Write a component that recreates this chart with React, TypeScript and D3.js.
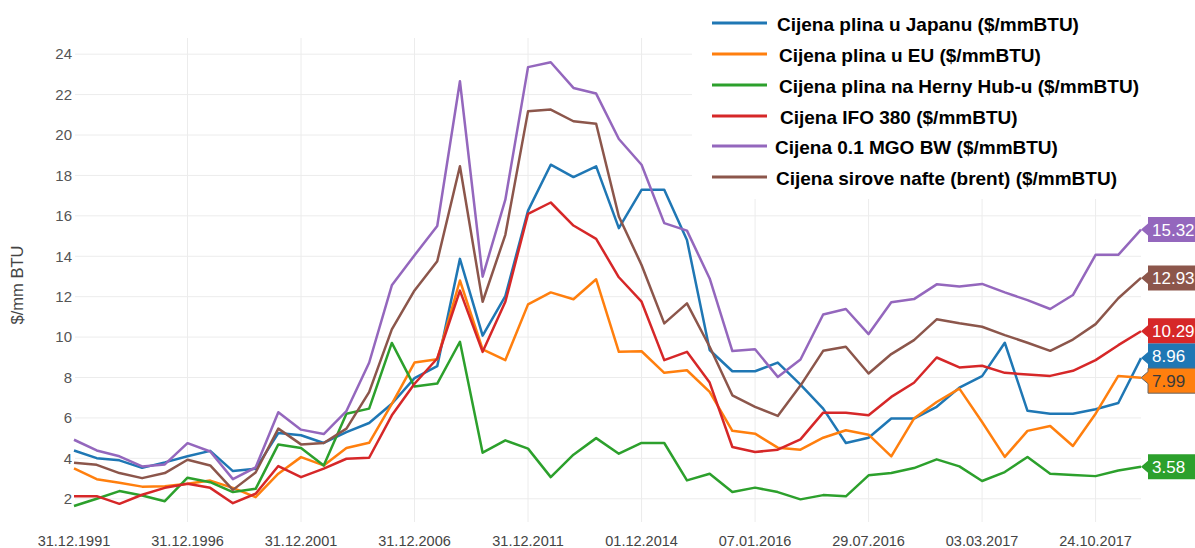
import React from 'react';
import * as d3 from 'd3';

const tickLabels = [
  '31.12.1991', '31.12.1996', '31.12.2001', '31.12.2006', '31.12.2011',
  '01.12.2014', '07.01.2016', '29.07.2016', '03.03.2017', '24.10.2017',
];
const tickEvery = 5;

const japan = [4.39, 4.01, 3.9, 3.53, 3.8, 4.1, 4.37, 3.37, 3.48, 5.25, 5.14, 4.76, 5.3, 5.75, 6.7, 7.97, 8.56, 13.87, 10.07, 12.03, 16.26, 18.53, 17.92, 18.45, 15.39, 17.29, 17.29, 14.8, 9.36, 8.31, 8.31, 8.74, 7.65, 6.46, 4.76, 5.02, 5.97, 5.97, 6.55, 7.5, 8.07, 9.72, 6.35, 6.21, 6.21, 6.43, 6.74, 8.96];
const eu = [3.5, 2.97, 2.79, 2.6, 2.62, 2.74, 2.9, 2.54, 2.08, 3.24, 4.06, 3.65, 4.51, 4.77, 6.7, 8.74, 8.9, 12.8, 9.39, 8.86, 11.62, 12.21, 11.87, 12.86, 9.27, 9.3, 8.23, 8.36, 7.29, 5.36, 5.22, 4.53, 4.43, 5.02, 5.39, 5.17, 4.1, 5.97, 6.79, 7.45, 5.8, 4.07, 5.36, 5.6, 4.61, 6.21, 8.08, 7.99];
const henryHub = [1.64, 2.0, 2.38, 2.16, 1.88, 3.04, 2.82, 2.33, 2.49, 4.69, 4.51, 3.65, 6.21, 6.46, 9.71, 7.55, 7.7, 9.77, 4.28, 4.89, 4.48, 3.07, 4.18, 5.0, 4.23, 4.76, 4.76, 2.91, 3.24, 2.33, 2.55, 2.33, 1.97, 2.18, 2.12, 3.16, 3.27, 3.52, 3.95, 3.6, 2.88, 3.32, 4.07, 3.24, 3.17, 3.12, 3.4, 3.58];
const ifo380 = [2.12, 2.13, 1.75, 2.2, 2.54, 2.74, 2.54, 1.78, 2.25, 3.62, 3.07, 3.49, 3.98, 4.03, 6.13, 7.69, 8.94, 12.3, 9.27, 11.75, 16.1, 16.66, 15.52, 14.86, 12.96, 11.75, 8.86, 9.27, 7.75, 4.56, 4.31, 4.43, 4.94, 6.26, 6.26, 6.13, 7.04, 7.74, 8.99, 8.5, 8.58, 8.23, 8.15, 8.08, 8.33, 8.86, 9.6, 10.29];
const mgo = [4.92, 4.39, 4.1, 3.6, 3.7, 4.75, 4.34, 2.97, 3.55, 6.28, 5.42, 5.2, 6.34, 8.73, 12.56, 14.05, 15.5, 22.66, 12.99, 16.8, 23.36, 23.6, 22.33, 22.05, 19.8, 18.53, 15.64, 15.27, 12.9, 9.31, 9.4, 8.03, 8.89, 11.12, 11.39, 10.15, 11.72, 11.88, 12.61, 12.5, 12.63, 12.21, 11.83, 11.39, 12.08, 14.07, 14.07, 15.32];
const brent = [3.78, 3.68, 3.27, 3.02, 3.27, 3.93, 3.65, 2.44, 3.3, 5.47, 4.69, 4.76, 5.47, 7.28, 10.38, 12.31, 13.75, 18.45, 11.75, 15.06, 21.17, 21.26, 20.68, 20.56, 15.97, 13.57, 10.68, 11.67, 9.52, 7.12, 6.55, 6.1, 7.6, 9.32, 9.52, 8.2, 9.16, 9.85, 10.88, 10.68, 10.51, 10.1, 9.72, 9.32, 9.88, 10.64, 11.92, 12.93];

const seriesNames = [
  'Cijena plina u Japanu ($/mmBTU)',
  'Cijena plina u EU ($/mmBTU)',
  'Cijena plina na Herny Hub-u ($/mmBTU)',
  'Cijena IFO 380 ($/mmBTU)',
  'Cijena 0.1 MGO BW ($/mmBTU)',
  'Cijena sirove nafte (brent) ($/mmBTU)',
];
const seriesValues = [japan, eu, henryHub, ifo380, mgo, brent];
const seriesColors = ['#1f77b4', '#ff7f0e', '#2ca02c', '#d62728', '#9467bd', '#8c564b'];
const labelTextColors = ['#ffffff', '#3a3a3a', '#ffffff', '#ffffff', '#ffffff', '#ffffff'];
const yTicks = [2, 4, 6, 8, 10, 12, 14, 16, 18, 20, 22, 24];

const FONT = "Arial, 'Liberation Sans', sans-serif";

export default function App() {
  const W = 1195;
  const H = 548;
  const n = japan.length;
  const idx = d3.range(n);
  const x = d3.scalePoint<number>().domain(idx).range([74, 1141]);
  const y = d3.scaleLinear().domain([0.85, 24.8]).range([522, 38]);
  const line = d3.line<number>().x((_, i) => x(i) as number).y((v) => y(v));

  const boxH = 25;
  const items = seriesValues.map((vals, k) => {
    const v = vals[vals.length - 1];
    return { k, v, ty: y(v), cy: y(v) };
  });
  const sorted = [...items].sort((a, b) => a.ty - b.ty);
  for (let it = 0; it < 100; it++) {
    for (let j = 1; j < sorted.length; j++) {
      const a = sorted[j - 1];
      const b = sorted[j];
      const ov = boxH - (b.cy - a.cy);
      if (ov > 0) {
        a.cy -= ov / 2;
        b.cy += ov / 2;
      }
    }
  }

  const xEnd = x(n - 1) as number;
  const legendY = [23, 54, 85, 116, 146, 177];
  const legendTextX = [777, 779, 779, 780, 775, 776];

  return (
    <svg
      width={W}
      height={H}
      style={{ position: 'absolute', left: 0, top: 0, background: '#fff' }}
      fontFamily={FONT}
    >
      <rect x={0} y={0} width={W} height={H} fill="#fff" />
      {yTicks.map((t) => (
        <line key={'h' + t} x1={75} x2={xEnd} y1={y(t)} y2={y(t)} stroke="#ececec" strokeWidth={1} />
      ))}
      {tickLabels.map((_, j) =>
        j === 0 ? null : (
          <line
            key={'v' + j}
            x1={x(j * tickEvery)}
            x2={x(j * tickEvery)}
            y1={38}
            y2={522}
            stroke="#ececec"
            strokeWidth={1}
          />
        )
      )}
      <rect x={692} y={0} width={W - 692} height={199} fill="#fff" />
      {yTicks.map((t) => (
        <text key={'yt' + t} x={72} y={y(t)} dy="0.35em" textAnchor="end" fontSize={15} fill="#555">
          {t}
        </text>
      ))}
      {tickLabels.map((lab, j) => (
        <text key={'xt' + j} x={x(j * tickEvery)} y={546} textAnchor="middle" fontSize={14.5} fill="#444">
          {lab}
        </text>
      ))}
      <text transform={`translate(23,285) rotate(-90)`} textAnchor="middle" fontSize={16.5} fill="#444">
        $/mm BTU
      </text>
      {seriesValues.map((vals, k) => (
        <path
          key={'l' + k}
          d={line(vals) || ''}
          fill="none"
          stroke={seriesColors[k]}
          strokeWidth={2.5}
          strokeLinejoin="round"
        />
      ))}
      {items.map((it) => {
        const c = seriesColors[it.k];
        const bx = xEnd + 7;
        const top = it.cy - boxH / 2;
        const bot = it.cy + boxH / 2;
        const nt = Math.max(top, Math.min(bot - 12, it.ty - 6));
        const nb = nt + 12;
        const bw = 60;
        const d = `M${xEnd},${it.ty} L${bx},${nt} L${bx},${top} L${bx + bw},${top} L${bx + bw},${bot} L${bx},${bot} L${bx},${nb} Z`;
        const isOrange = it.k === 1;
        return (
          <g key={'lab' + it.k}>
            <path d={d} fill={c} stroke={isOrange ? '#666' : 'none'} strokeWidth={1} />
            <text x={bx + 4} y={it.cy} dy="0.36em" fontSize={17} fill={labelTextColors[it.k]}>
              {seriesValues[it.k][seriesValues[it.k].length - 1].toFixed(2)}
            </text>
          </g>
        );
      })}
      {seriesNames.map((name, k) => (
        <g key={'lg' + k}>
          <line x1={712} x2={767} y1={legendY[k]} y2={legendY[k]} stroke={seriesColors[k]} strokeWidth={3} />
          <text x={legendTextX[k]} y={legendY[k] + 1} dy="0.35em" fontSize={19} fontWeight="bold" fill="#000">
            {name}
          </text>
        </g>
      ))}
    </svg>
  );
}
